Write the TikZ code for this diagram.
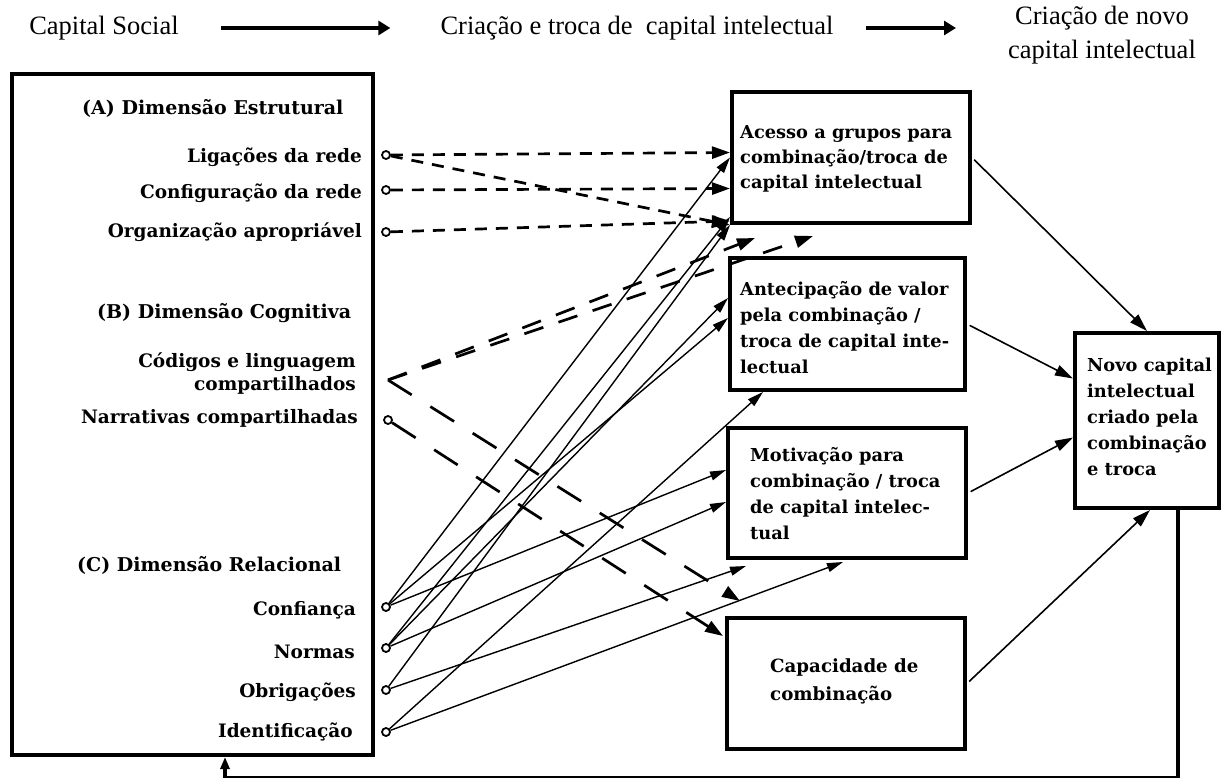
\documentclass[tikz,border=0pt]{standalone}
\usepackage{fontspec}
\setmainfont{Liberation Serif}
\newfontfamily\boxfont{DejaVu Serif}
\usetikzlibrary{arrows.meta,calc}

\begin{document}
\begin{tikzpicture}[x=1pt,y=-1pt,
  hdr/.style={font=\fontsize{26.5}{34}\selectfont, inner sep=0pt, align=center},
  txt/.style={font=\boxfont\bfseries\fontsize{18.5}{24}\selectfont, inner sep=0pt},
  head/.style={font=\boxfont\bfseries\fontsize{19}{24}\selectfont, inner sep=0pt, anchor=west},
  btxt/.style={inner sep=0pt, anchor=west, align=left},
  frame/.style={draw, line width=4pt, inner sep=0pt},
  tip/.style={circle, draw, line width=1.8pt, minimum size=8pt, inner sep=0pt},
  dlink/.style={line width=2.7pt, dash pattern=on 12pt off 9pt, -{Triangle[length=18pt,width=12pt]}},
  ldlink/.style={line width=2.7pt, dash pattern=on 28pt off 22pt, -{Triangle[length=18pt,width=12pt]}},
  slink/.style={line width=1.4pt, -{Triangle[length=16pt,width=9pt]}},
  olink/.style={line width=1.6pt, shorten <=3pt, -{Triangle[length=18pt,width=11pt]}},
  harrow/.style={line width=4pt, -{Triangle[length=12pt,width=14pt]}},
  fback/.style={line width=4pt, -{Triangle[length=12pt,width=9pt]}},
]
\useasboundingbox (0,0) rectangle (1223,778);
\fill[white] (0,0) rectangle (1223,778);

% header line
\node[hdr] (cs) at (104,28) {Capital Social};
\node[hdr] (ct) at (637,28) {Criação e troca de\ \ capital intelectual};
\node[hdr] (cn) at (1102,35) {Criação de novo\\capital intelectual};
\draw[harrow] ([xshift=42pt]cs.east) -- ([xshift=-50pt]ct.west);
\draw[harrow] ([xshift=32pt]ct.east) -- ([xshift=-52pt]cn.west |- ct.east);

% social capital frame
\node[frame, minimum width=361pt, minimum height=681pt] (soc) at (192.5,414.5) {};
\node[head] (hA) at (82,108) {(A) Dimensão Estrutural};
\node[txt, anchor=east] (tl1) at (362,157) {Ligações da rede};
\node[txt, anchor=east] (tl2) at (362,193) {Configuração da rede};
\node[txt, anchor=east] (tl3) at (362,232) {Organização apropriável};
\node[head] (hB) at (97,313) {(B) Dimensão Cognitiva};
\node[txt, anchor=east, align=right, font=\boxfont\bfseries\fontsize{18.5}{23}\selectfont] (tc1) at (356,374) {Códigos e linguagem\\compartilhados};
\node[txt, anchor=east] (tc2) at (358,418) {Narrativas compartilhadas};
\node[head] (hC) at (77,565) {(C) Dimensão Relacional};
\node[txt, anchor=east] (tr1) at (356,610) {Confiança};
\node[txt, anchor=east] (tr2) at (355,652) {Normas};
\node[txt, anchor=east] (tr3) at (356,692) {Obrigações};
\node[txt, anchor=east] (tr4) at (353,732) {Identificação};

% small terminals on the frame
\node[tip] (l1) at (386,155) {};
\node[tip] (l2) at (386,190) {};
\node[tip] (l3) at (386,232) {};
\coordinate (c1) at (388,380);
\node[tip] (c2) at (388,420) {};
\node[tip] (r1) at (386,607) {};
\node[tip] (r2) at (386,648) {};
\node[tip] (r3) at (386,690) {};
\node[tip] (r4) at (386,732) {};

% intellectual capital boxes
\node[frame, minimum width=238pt, minimum height=131pt] (b1) at (851,157.5) {};
\node[frame, minimum width=235pt, minimum height=132pt] (b2) at (847.5,324) {};
\node[frame, minimum width=238pt, minimum height=130pt] (b3) at (847,493) {};
\node[frame, minimum width=238pt, minimum height=131pt] (b4) at (846,683.5) {};
\node[frame, minimum width=144pt, minimum height=175pt] (b5) at (1147,420.5) {};

\node[btxt, font=\boxfont\bfseries\fontsize{17.8}{25}\selectfont] at (740,159) {Acesso a grupos para\\combinação/troca de\\capital intelectual};
\node[btxt, font=\boxfont\bfseries\fontsize{17.8}{26}\selectfont] at (740,328) {Antecipação de valor\\pela combinação /\\troca de capital inte-\\lectual};
\node[btxt, font=\boxfont\bfseries\fontsize{17.8}{26}\selectfont] at (750,494) {Motivação para\\combinação / troca\\de capital intelec-\\tual};
\node[btxt, font=\boxfont\bfseries\fontsize{18.2}{28}\selectfont] at (770,681) {Capacidade de\\combinação};
\node[btxt, font=\boxfont\bfseries\fontsize{17.8}{26}\selectfont] at (1087,417) {Novo capital\\intelectual\\criado pela\\combinação\\e troca};

% structural dimension
\draw[dlink] (l1) -- ($(b1.west)+(0,-5)$);
\draw[dlink] (l1) -- (b1.south west);
\draw[dlink] (l2) -- ($(b1.west)+(0,31)$);
\draw[dlink] (l3) -- ($(b1.south west)+(0,-4)$);

% cognitive dimension
\draw[dlink, dash pattern=on 20pt off 16pt] (c1) -- ($(b1.south west)+(25,13)$);
\draw[dlink, dash pattern=on 20pt off 16pt] (c1) -- ($(b1.south west)+(83,11)$);
\draw[ldlink] (c1) -- ($(b4.north west)+(15,-15)$);
\draw[ldlink] (c2) -- ($(b4.north west)+(-2,20)$);

% relational dimension
\draw[slink] (r1) -- (b1.west);
\draw[slink] (r1) -- ($(b2.west)+(0,-6)$);
\draw[slink] (r1) -- ($(b3.west)+(0,-23)$);
\draw[slink] (r2) -- ($(b1.south west)+(0,-8)$);
\draw[slink] (r2) -- ($(b2.west)+(0,-26)$);
\draw[slink] (r2) -- ($(b3.west)+(0,9)$);
\draw[slink] (r3) -- (b1.south west);
\draw[slink] (r3) -- ($(b3.south west)+(20,6)$);
\draw[slink] (r4) -- ($(b2.south west)+(35,0)$);
\draw[slink] (r4) -- ($(b3.south west)+(117,2)$);

% towards new intellectual capital
\draw[olink] (b1.east) -- (b5.north);
\draw[olink] (b2.east) -- ($(b5.west)+(0,-42)$);
\draw[olink] (b3.east) -- ($(b5.west)+(0,17)$);
\draw[olink] (b4.east) -- ($(b5.south)+(3,0)$);

% feedback loop
\coordinate (fb) at (225,778);
\draw[fback] ($(b5.south)+(31,0)$) |- (fb) -- (fb |- soc.south);
\end{tikzpicture}
\end{document}
